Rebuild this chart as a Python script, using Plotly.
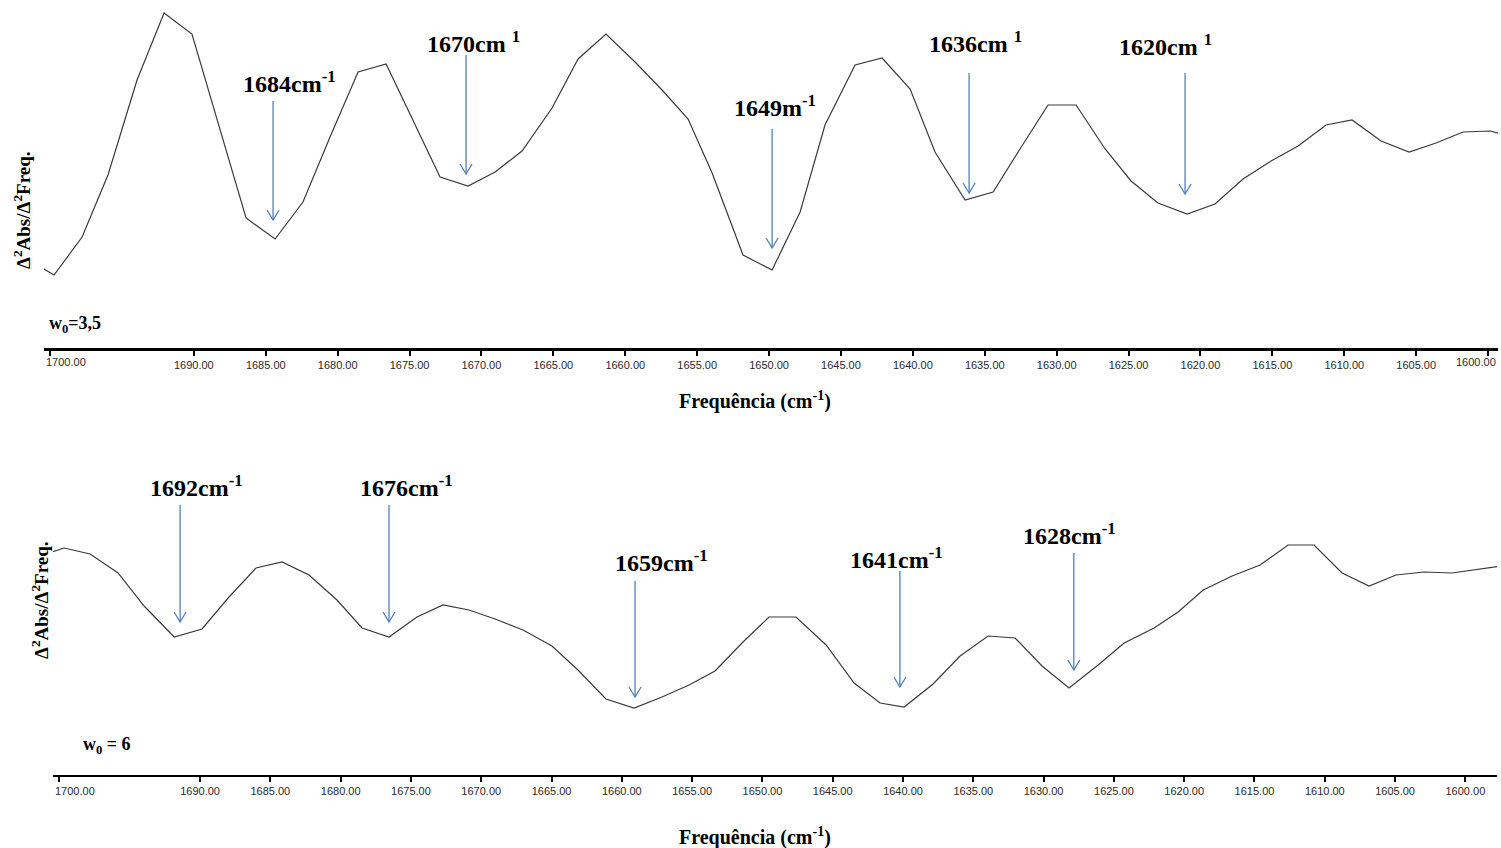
import plotly.graph_objects as go

W, H = 1501, 848

# ---------------- data (arbitrary 2nd-derivative units) ----------------
wn_top = [1700.42, 1699.72, 1697.77, 1695.97, 1693.95, 1692.07, 1690.13, 1686.37, 1684.35,
          1682.41, 1680.53, 1678.58, 1676.63, 1674.76, 1672.88, 1670.93, 1669.05, 1667.18,
          1665.09, 1663.28, 1661.34, 1659.32, 1657.44, 1655.63, 1653.96, 1651.81, 1649.79,
          1647.84, 1646.11, 1644.02, 1642.14, 1640.19, 1638.46, 1636.37, 1634.42, 1632.55,
          1630.60, 1628.65, 1626.63, 1624.83, 1622.95, 1620.93, 1618.99, 1617.04, 1615.09,
          1613.21, 1611.27, 1609.46, 1607.44, 1605.49, 1603.62, 1601.74, 1599.86, 1599.10]
d2_top = [-1.19, -1.25, -0.87, -0.25, 0.70, 1.37, 1.16, -0.68, -0.89,
          -0.52, 0.13, 0.78, 0.86, 0.30, -0.27, -0.36, -0.22, -0.01,
          0.42, 0.91, 1.16, 0.88, 0.60, 0.31, -0.23, -1.05, -1.20,
          -0.62, 0.25, 0.85, 0.92, 0.61, -0.02, -0.50, -0.42, 0.01,
          0.45, 0.45, 0.01, -0.31, -0.53, -0.64, -0.54, -0.29, -0.11,
          0.04, 0.25, 0.30, 0.09, -0.02, 0.07, 0.18, 0.19, 0.16]

wn_bot = [1700.53, 1699.67, 1697.82, 1695.83, 1693.98, 1691.84, 1689.86, 1687.94, 1686.02,
          1684.17, 1682.25, 1680.26, 1678.48, 1676.56, 1674.57, 1672.72, 1670.87, 1669.02,
          1667.03, 1664.97, 1663.12, 1661.13, 1659.13, 1657.14, 1655.22, 1653.37, 1651.38,
          1649.53, 1647.61, 1645.47, 1643.48, 1641.63, 1639.92, 1637.86, 1635.94, 1633.95,
          1632.03, 1630.11, 1628.19, 1626.12, 1624.27, 1622.14, 1620.43, 1618.65, 1616.59,
          1614.60, 1612.61, 1610.76, 1608.77, 1606.85, 1604.93, 1602.94, 1600.95, 1598.80,
          1597.45]
d2_bot = [0.68, 0.72, 0.66, 0.47, 0.14, -0.17, -0.09, 0.23, 0.52,
          0.58, 0.45, 0.20, -0.08, -0.17, 0.03, 0.15, 0.10, 0.01,
          -0.10, -0.26, -0.50, -0.79, -0.88, -0.77, -0.65, -0.51, -0.22,
          0.03, 0.03, -0.25, -0.63, -0.83, -0.87, -0.64, -0.36, -0.16,
          -0.18, -0.46, -0.68, -0.45, -0.23, -0.08, 0.08, 0.30, 0.44,
          0.55, 0.75, 0.75, 0.47, 0.34, 0.45, 0.48, 0.47, 0.51,
          0.54]

tick_vals = [1700, 1690, 1685, 1680, 1675, 1670, 1665, 1660, 1655, 1650, 1645,
             1640, 1635, 1630, 1625, 1620, 1615, 1610, 1605, 1600]
tick_text = ["%.2f" % v for v in tick_vals]

# peak labels (text as in the original figure)
labels_top = ["1684cm<sup>-1</sup>", "1670cm <sup>1</sup>", "1649m<sup>-1</sup>",
              "1636cm <sup>1</sup>", "1620cm <sup>1</sup>"]
labels_bot = ["1692cm<sup>-1</sup>", "1676cm<sup>-1</sup>", "1659cm<sup>-1</sup>",
              "1641cm<sup>-1</sup>", "1628cm<sup>-1</sup>"]

# ---------------- annotation placement (layout, not data) ----------------
arrow_x_top = [1684.49, 1671.07, 1649.79, 1636.09, 1621.07]
arrow_from_top = [0.49, 0.95, 0.21, 0.77, 0.77]
arrow_to_top = [-0.70, -0.24, -0.98, -0.43, -0.44]
label_x_top = [1683.38, 1670.52, 1649.58, 1635.61, 1622.46]
label_y_top = [0.68, 1.08, 0.44, 1.08, 1.05]

arrow_x_bot = [1691.42, 1676.56, 1659.06, 1640.22, 1627.85]
arrow_from_bot = [1.15, 1.15, 0.39, 0.49, 0.67]
arrow_to_bot = [-0.02, -0.02, -0.77, -0.67, -0.50]
label_x_bot = [1690.22, 1675.35, 1657.21, 1640.43, 1628.13]
label_y_bot = [1.34, 1.34, 0.59, 0.62, 0.86]

LINE_COL = "#3a3a3a"
ARROW_COL = "#4f81bd"
TICK_COL = "#2a2a2a"
SERIF = "Liberation Serif"
SANS = "Liberation Sans"

X1_RANGE = [1700.42, 1599.31]
X2_RANGE = [1700.46, 1597.75]


def px_x(p):
    return p / W


def px_y(p):
    return 1 - p / H


def arrow_trace(xs, y0s, y1s, xa, ya, dx, dy):
    X, Y = [], []
    for x, a, b in zip(xs, y0s, y1s):
        X += [x, x, None, x - dx, x, x + dx, None]
        Y += [a, b, None, b + dy, b, b + dy, None]
    return go.Scatter(x=X, y=Y, mode="lines", xaxis=xa, yaxis=ya,
                      line=dict(color=ARROW_COL, width=1.3), hoverinfo="skip",
                      showlegend=False)


fig = go.Figure()
fig.add_trace(go.Scatter(x=wn_top, y=d2_top, mode="lines", xaxis="x", yaxis="y",
                         line=dict(color=LINE_COL, width=1.2), showlegend=False))
fig.add_trace(go.Scatter(x=wn_bot, y=d2_bot, mode="lines", xaxis="x2", yaxis="y2",
                         line=dict(color=LINE_COL, width=1.2), showlegend=False))
fig.add_trace(arrow_trace(arrow_x_top, arrow_from_top, arrow_to_top, "x", "y", 0.42, 0.10))
fig.add_trace(arrow_trace(arrow_x_bot, arrow_from_bot, arrow_to_bot, "x2", "y2", 0.43, 0.10))

# edge labels are clamped to the axis extent in the original, drawn separately below
text_top = ["" if v in (1700, 1600) else t for v, t in zip(tick_vals, tick_text)]
text_bot = ["" if v == 1700 else t for v, t in zip(tick_vals, tick_text)]

xcommon = dict(showgrid=False, zeroline=False, showline=True, linecolor="black",
               ticks="outside", ticklen=5, tickwidth=1.5, tickcolor="black",
               tickmode="array", tickvals=tick_vals,
               tickfont=dict(family=SANS, size=11, color=TICK_COL),
               automargin=False, fixedrange=True)
ycommon = dict(visible=False, showgrid=False, zeroline=False, automargin=False,
               fixedrange=True)

fig.update_layout(
    width=W, height=H,
    margin=dict(l=0, r=0, t=0, b=0),
    paper_bgcolor="white", plot_bgcolor="white",
    showlegend=False,
    xaxis=dict(xcommon, domain=[px_x(44), px_x(1498)], range=X1_RANGE,
               ticktext=text_top, anchor="y", linewidth=3),
    yaxis=dict(ycommon, domain=[px_y(348), 1.0], range=[-1.98, 1.50], anchor="x"),
    xaxis2=dict(xcommon, domain=[px_x(53), px_x(1497)], range=X2_RANGE,
                ticktext=text_bot, anchor="y2", linewidth=2),
    yaxis2=dict(ycommon, domain=[px_y(775), px_y(440)], range=[-1.55, 1.80], anchor="x2"),
)

ann = []
for t, x, y in zip(labels_top, label_x_top, label_y_top):
    ann.append(dict(text="<b>%s</b>" % t, x=x, y=y, xref="x", yref="y", showarrow=False,
                    xanchor="center", yanchor="middle",
                    font=dict(family=SERIF, size=24, color="black")))
for t, x, y in zip(labels_bot, label_x_bot, label_y_bot):
    ann.append(dict(text="<b>%s</b>" % t, x=x, y=y, xref="x2", yref="y2", showarrow=False,
                    xanchor="center", yanchor="middle",
                    font=dict(family=SERIF, size=24, color="black")))

tickfont = dict(family=SANS, size=11, color=TICK_COL)
ann.append(dict(text="1700.00", x=X1_RANGE[0], y=px_y(362), xref="x", yref="paper",
                xanchor="left", yanchor="middle", showarrow=False, font=tickfont))
ann.append(dict(text="1600.00", x=X1_RANGE[1], y=px_y(362), xref="x", yref="paper",
                xanchor="right", yanchor="middle", showarrow=False, font=tickfont))
ann.append(dict(text="1700.00", x=X2_RANGE[0], y=px_y(791), xref="x2", yref="paper",
                xanchor="left", yanchor="middle", showarrow=False, font=tickfont))

ytitle = "<b>Δ<sup>2</sup>Abs/Δ<sup>2</sup>Freq.</b>"
ann.append(dict(text=ytitle, x=px_x(22), y=px_y(210), xref="paper", yref="paper",
                xanchor="center", yanchor="middle",
                textangle=-90, showarrow=False, font=dict(family=SERIF, size=19, color="black")))
ann.append(dict(text=ytitle, x=px_x(40), y=px_y(600), xref="paper", yref="paper",
                xanchor="center", yanchor="middle",
                textangle=-90, showarrow=False, font=dict(family=SERIF, size=19, color="black")))

xtitle = "<b>Frequência (cm<sup>-1</sup>)</b>"
ann.append(dict(text=xtitle, x=px_x(755), y=px_y(400), xref="paper", yref="paper",
                xanchor="center", yanchor="middle",
                showarrow=False, font=dict(family=SERIF, size=20, color="black")))
ann.append(dict(text=xtitle, x=px_x(755), y=px_y(836), xref="paper", yref="paper",
                xanchor="center", yanchor="middle",
                showarrow=False, font=dict(family=SERIF, size=20, color="black")))

ann.append(dict(text="<b>w<sub>0</sub>=3,5</b>", x=px_x(47), y=px_y(325), xref="paper",
                yref="paper", xanchor="left", yanchor="middle", showarrow=False,
                font=dict(family=SERIF, size=18, color="black")))
ann.append(dict(text="<b>w<sub>0</sub> = 6</b>", x=px_x(81), y=px_y(745), xref="paper",
                yref="paper", xanchor="left", yanchor="middle", showarrow=False,
                font=dict(family=SERIF, size=18, color="black")))

fig.update_layout(annotations=ann)

fig.write_html("out.html", config={"displayModeBar": False},
               post_script="document.body.style.margin='0px';")
